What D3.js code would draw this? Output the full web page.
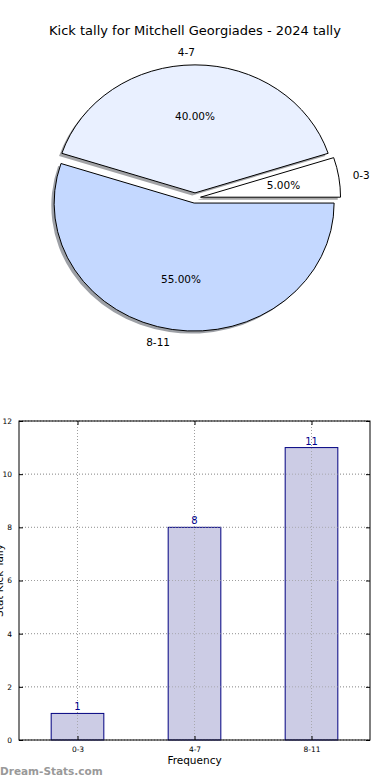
<!DOCTYPE html>
<html><head><meta charset="utf-8">
<script src="https://cdn.jsdelivr.net/npm/d3@7"></script>
<style>body{margin:0;background:#fff;} svg{display:block;font-family:"DejaVu Sans",sans-serif;}</style>
</head><body><svg id="c" width="390" height="780"></svg>
<script>
const title = "Kick tally for Mitchell Georgiades - 2024 tally";
const categories = ["0-3", "4-7", "8-11"];
const values = [1, 8, 11];
const pieColors = ["#ffffff", "#e9f0ff", "#c4d8ff"];
const yTicks = [0, 2, 4, 6, 8, 10, 12];
const xLabel = "Frequency";
const yLabel = "Stat Kick Tally";
const watermark = "Dream-Stats.com";

const svg = d3.select("#c");
svg.append("text").attr("x", 195).attr("y", 35).attr("text-anchor", "middle")
  .attr("font-size", 13).attr("fill", "#000").text(title);

// ---- Pie ----
const cx = 195, cy = 198, rx = 140, ry = 128, ex = 0.04;
const total = d3.sum(values);
const pie = d3.pie().sort(null).startAngle(Math.PI / 2).endAngle(Math.PI / 2 - 2 * Math.PI);
const arcs = pie(values);
const arc = d3.arc().innerRadius(0).outerRadius(rx);
const pg = svg.append("g").attr("transform", `translate(${cx},${cy}) scale(1,${ry / rx})`);
function mid(a) { // math angle (ccw from east)
  const d = (a.startAngle + a.endAngle) / 2;
  return Math.PI / 2 - d;
}
arcs.forEach((a, i) => {
  const t = mid(a);
  const ox = ex * rx * Math.cos(t), oy = -ex * rx * Math.sin(t);
  const c = d3.rgb(pieColors[i]);
  pg.append("path").attr("d", arc(a))
    .attr("transform", `translate(${ox - 0.02 * rx},${oy + 0.02 * rx})`)
    .attr("fill", d3.rgb(c.r * 0.3, c.g * 0.3, c.b * 0.3)).attr("fill-opacity", 0.5);
});
arcs.forEach((a, i) => {
  const t = mid(a);
  const ox = ex * rx * Math.cos(t), oy = -ex * rx * Math.sin(t);
  pg.append("path").attr("d", arc(a))
    .attr("transform", `translate(${ox},${oy})`)
    .attr("fill", pieColors[i]).attr("stroke", "#000").attr("stroke-width", 1)
    .attr("vector-effect", "non-scaling-stroke").attr("stroke-linejoin", "round");
});
arcs.forEach((a, i) => {
  const t = mid(a);
  const c = Math.cos(t), s = Math.sin(t);
  const lx = cx + (ex + 1.1) * rx * c, ly = cy - (ex + 1.1) * ry * s;
  svg.append("text").attr("x", lx).attr("y", ly).attr("dy", "0.35em")
    .attr("text-anchor", c > 1e-9 ? "start" : "end")
    .attr("font-size", 10.5).text(categories[i]);
  const px = cx + (ex + 0.6) * rx * c, py = cy - (ex + 0.6) * ry * s;
  svg.append("text").attr("x", px).attr("y", py).attr("dy", "0.35em")
    .attr("text-anchor", "middle").attr("font-size", 10.5)
    .text((values[i] / total * 100).toFixed(2) + "%");
});

// ---- Bar chart ----
const L = 19, R = 370, T = 421, B = 740;
const x = d3.scaleLinear().domain([-0.5, categories.length - 0.5]).range([L, R]);
const y = d3.scaleLinear().domain([0, 12]).range([B, T]);
const bw = 0.45;
const bg = svg.append("g");
bg.selectAll(".gy").data(yTicks).join("line")
  .attr("x1", L).attr("x2", R).attr("y1", d => y(d)).attr("y2", d => y(d))
  .attr("stroke", "#aaa").attr("stroke-width", 1).attr("stroke-dasharray", "1,2");
bg.selectAll(".gx").data(categories).join("line")
  .attr("x1", (d, i) => x(i)).attr("x2", (d, i) => x(i)).attr("y1", T).attr("y2", B)
  .attr("stroke", "#aaa").attr("stroke-width", 1).attr("stroke-dasharray", "1,2");
bg.selectAll(".bar").data(values).join("rect")
  .attr("x", (d, i) => x(i - bw / 2)).attr("width", x(bw) - x(0))
  .attr("y", d => y(d)).attr("height", d => y(0) - y(d))
  .attr("fill", "#ccccE5").attr("stroke", "#000080").attr("stroke-width", 1);
bg.selectAll(".gx2").data(categories).join("line")
  .attr("x1", (d, i) => x(i)).attr("x2", (d, i) => x(i)).attr("y1", T).attr("y2", B)
  .attr("stroke", "#999").attr("stroke-width", 1).attr("stroke-dasharray", "1,2").attr("opacity", 0.7);
bg.selectAll(".gy2").data(yTicks).join("line")
  .attr("x1", L).attr("x2", R).attr("y1", d => y(d)).attr("y2", d => y(d))
  .attr("stroke", "#999").attr("stroke-width", 1).attr("stroke-dasharray", "1,2").attr("opacity", 0.7);
bg.selectAll(".vl").data(values).join("text")
  .attr("x", (d, i) => x(i)).attr("y", d => y(d) - 3).attr("text-anchor", "middle")
  .attr("font-size", 10).attr("fill", "#00008b").text(d => d);
const yAxL = d3.axisLeft(y).tickValues(yTicks).tickSize(-4).tickPadding(7);
const gL = bg.append("g").attr("transform", `translate(${L},0)`).call(yAxL);
const yAxR = d3.axisRight(y).tickValues(yTicks).tickSize(-4).tickFormat("");
const gR = bg.append("g").attr("transform", `translate(${R},0)`).call(yAxR);
const xAxB = d3.axisBottom(x).tickValues(d3.range(categories.length)).tickFormat(i => categories[i]).tickSize(-4).tickPadding(7);
const gB = bg.append("g").attr("transform", `translate(0,${B})`).call(xAxB);
const xAxT = d3.axisTop(x).tickValues(d3.range(categories.length)).tickFormat("").tickSize(-4);
const gT = bg.append("g").attr("transform", `translate(0,${T})`).call(xAxT);
[gL, gR, gB, gT].forEach(g => {
  g.selectAll(".domain").remove();
  g.selectAll("text").attr("font-size", 7.5).attr("font-family", "DejaVu Sans").attr("fill", "#000");
  g.selectAll("line").attr("stroke", "#000");
});
bg.append("rect").attr("x", L).attr("y", T).attr("width", R - L).attr("height", B - T)
  .attr("fill", "none").attr("stroke", "#000").attr("stroke-width", 1);
svg.append("text").attr("x", (L + R) / 2).attr("y", 764).attr("text-anchor", "middle")
  .attr("font-size", 10.5).text(xLabel);
svg.append("text").attr("transform", `translate(3,${(T + B) / 2}) rotate(-90)`)
  .attr("text-anchor", "middle").attr("font-size", 10.5).text(yLabel);
svg.append("text").attr("x", 0).attr("y", 775).attr("font-size", 10.5).attr("font-weight", "bold")
  .attr("fill", "#999").text(watermark);
</script></body></html>
